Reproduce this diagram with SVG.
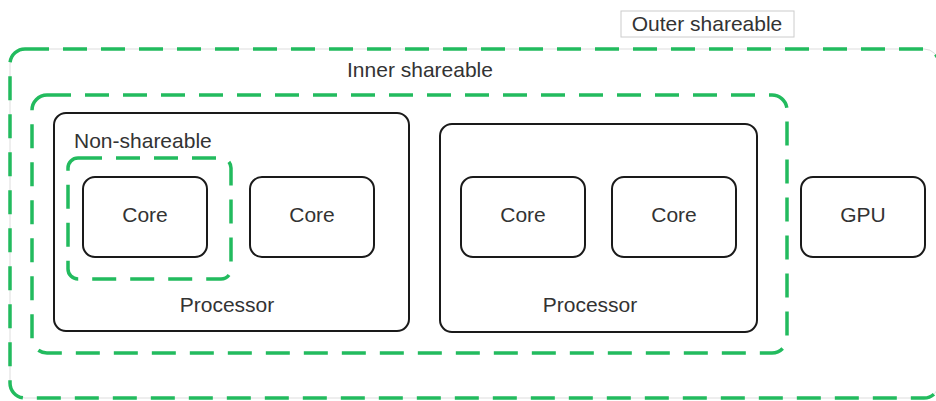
<svg xmlns="http://www.w3.org/2000/svg" width="936" height="401" viewBox="0 0 936 401">
<style>
.dash{fill:none;stroke:#22bb5e;stroke-width:3.5;stroke-dasharray:24 14}
.box{fill:#fff;stroke:#1a1a1a;stroke-width:2}
.t{font-family:"Liberation Sans",Arial,sans-serif;font-size:21px;fill:#333}
.c{text-anchor:middle}
</style>
<rect width="936" height="401" fill="#fff"/>
<g id="outer">
<rect x="10" y="49" width="929" height="349" rx="15" fill="none" stroke="#ddd" stroke-width="1"/>
<rect x="10" y="49" width="929" height="349" rx="15" class="dash"/>
<rect x="621" y="11" width="173" height="26" fill="#fff" stroke="#ccc" stroke-width="1"/>
<text x="707" y="31" class="t c">Outer shareable</text>
</g>
<g id="inner">
<rect x="32" y="95" width="755" height="258" rx="15" class="dash"/>
<text x="420" y="77" class="t c">Inner shareable</text>
</g>
<g id="processor1">
<rect x="54" y="113" width="355" height="218" rx="12" class="box"/>
<text x="74" y="148" class="t">Non-shareable</text>
<text x="227" y="312" class="t c">Processor</text>
</g>
<g id="nonshareable">
<rect x="68" y="158" width="163" height="121" rx="10" class="dash"/>
</g>
<g id="core1">
<rect x="83" y="177" width="124" height="80" rx="12" class="box"/>
<text x="145" y="222" class="t c">Core</text>
</g>
<g id="core2">
<rect x="250" y="177" width="124" height="80" rx="12" class="box"/>
<text x="312" y="222" class="t c">Core</text>
</g>
<g id="processor2">
<rect x="440" y="124" width="317" height="208" rx="12" class="box"/>
<text x="590" y="312" class="t c">Processor</text>
</g>
<g id="core3">
<rect x="461" y="177" width="124" height="80" rx="12" class="box"/>
<text x="523" y="222" class="t c">Core</text>
</g>
<g id="core4">
<rect x="612" y="177" width="124" height="80" rx="12" class="box"/>
<text x="674" y="222" class="t c">Core</text>
</g>
<g id="gpu">
<rect x="801" y="177" width="124" height="80" rx="12" class="box"/>
<text x="863" y="222" class="t c">GPU</text>
</g>
<g id="connectors"></g>
</svg>
